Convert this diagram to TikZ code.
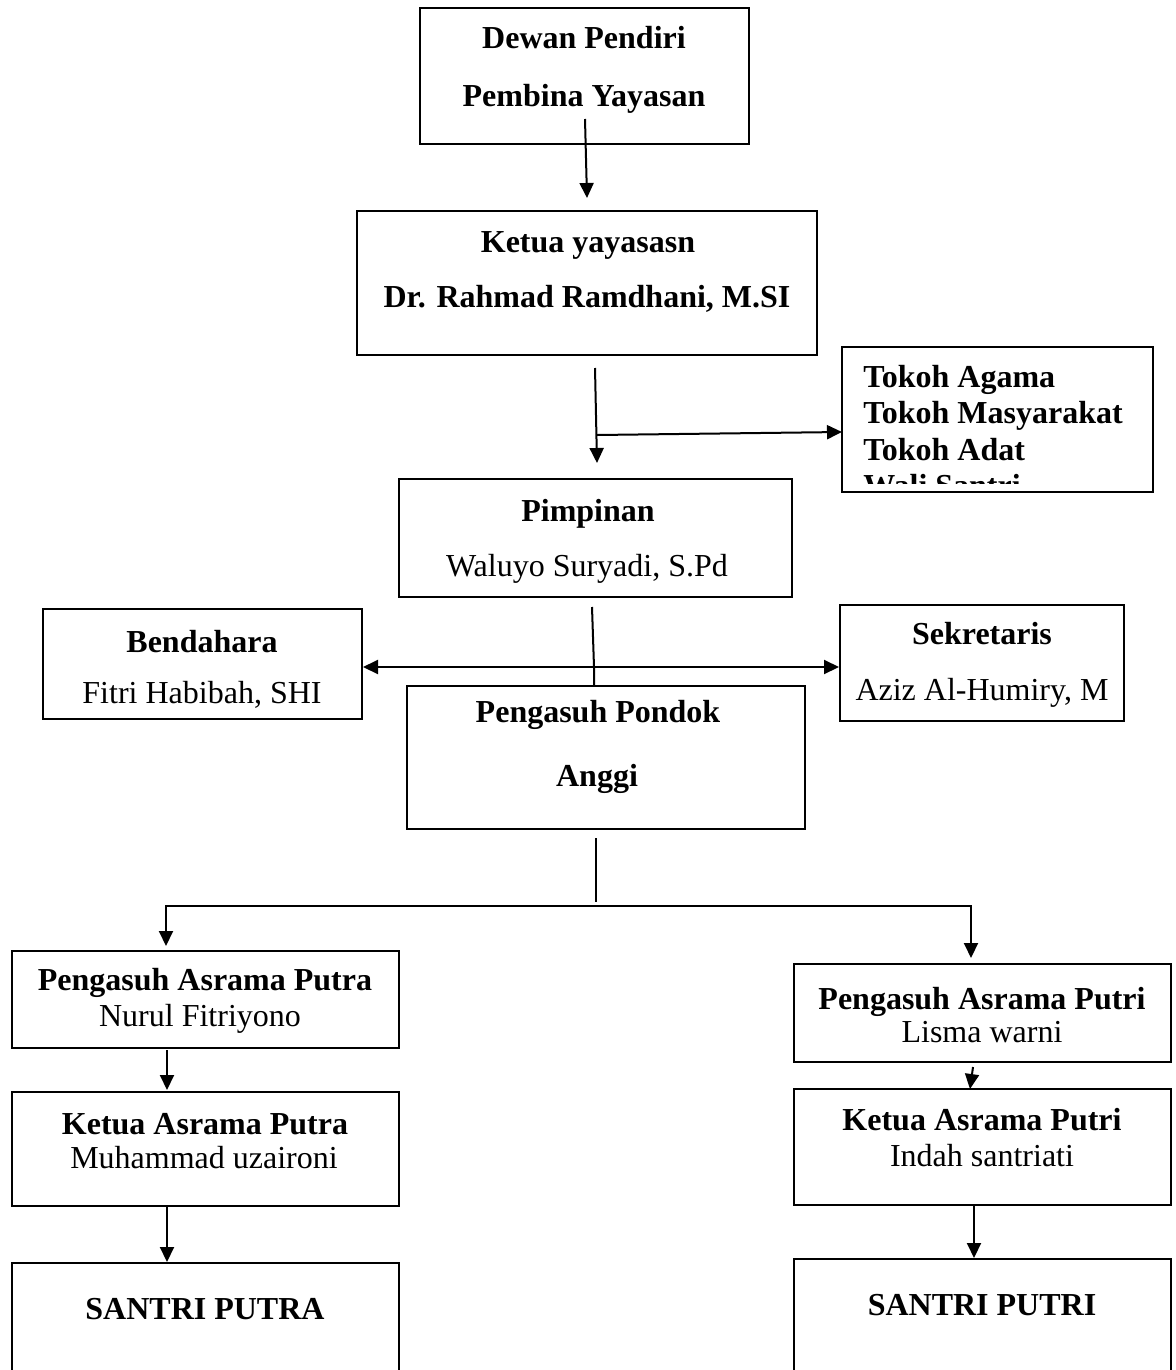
\documentclass[tikz,border=0pt]{standalone}
\usepackage{fontspec}
\setmainfont{Liberation Serif}
\usetikzlibrary{arrows.meta,fit}
\begin{document}
\begin{tikzpicture}[x=0.5pt,y=-0.5pt,
  box/.style={draw,line width=1pt,inner sep=0pt},
  bt/.style={font=\fontsize{16}{18}\selectfont\bfseries,anchor=base,inner sep=0pt},
  rt/.style={font=\fontsize{16}{18}\selectfont,anchor=base,inner sep=0pt},
  lt/.style={font=\fontsize{16}{18}\selectfont\bfseries,anchor=base west,inner sep=0pt},
  con/.style={line width=1pt},
  arr/.style={con,-{Triangle[width=7pt,length=7.5pt]}},
  both/.style={con,{Triangle[width=7pt,length=7.5pt]}-{Triangle[width=7pt,length=7.5pt]}}
  ]
\useasboundingbox (0,0) rectangle (1176,1370);
\fill[white] (0,0) rectangle (1176,1370);

% boxes
\node[box,fit={(420,8) (749,144)}] (dewan) {};
\node[box,fit={(357,211) (817,355)}] (ketua) {};
\node[box,fit={(842,347) (1153,492)}] (tokoh) {};
\node[box,fit={(399,479) (792,597)}] (pimp) {};
\node[box,fit={(43,609) (362,719)}] (bend) {};
\node[box,fit={(840,605) (1124,721)}] (sekr) {};
\node[box,fit={(407,686) (805,829)}] (pond) {};
\node[box,fit={(12,951) (399,1048)}] (pa) {};
\node[box,fit={(12,1092) (399,1206)}] (ka) {};
\node[box,fit={(12,1263) (399,1385)}] (sa) {};
\node[box,fit={(794,964) (1171,1062)}] (pi) {};
\node[box,fit={(794,1089) (1171,1205)}] (ki) {};
\node[box,fit={(794,1259) (1171,1385)}] (si) {};

% texts
\node[bt] (t1) at (584,49) {Dewan Pendiri};
\node[bt] (t2) at (584,106) {Pembina Yayasan};
\node[bt] (t3) at (588,252) {Ketua yayasasn};
\node[bt] (t4) at (587,307) {Dr. Rahmad Ramdhani, M.SI};
\begin{scope}
\clip (843,349) rectangle (1152,483);
\node[lt] (t5) at (863,387) {Tokoh Agama};
\node[lt] (t6) at (863,423) {Tokoh Masyarakat};
\node[lt] (t7) at (863,460) {Tokoh Adat};
\node[lt] (t8) at (863,496.5) {Wali Santri};
\end{scope}
\node[bt] (t9) at (588,521) {Pimpinan};
\node[rt] (t10) at (587,576) {Waluyo Suryadi, S.Pd};
\node[bt] (t11) at (202,652) {Bendahara};
\node[rt] (t12) at (202,703) {Fitri Habibah, SHI};
\node[bt] (t13) at (982,644) {Sekretaris};
\node[rt] (t14) at (982,700) {Aziz Al-Humiry, M};
\node[bt] (t15) at (598,722) {Pengasuh Pondok};
\node[bt] (t16) at (597,786) {Anggi};
\node[bt] (t17) at (205,990) {Pengasuh Asrama Putra};
\node[rt] (t18) at (200,1026) {Nurul Fitriyono};
\node[bt] (t19) at (205,1134) {Ketua Asrama Putra};
\node[rt] (t20) at (204,1168) {Muhammad uzaironi};
\node[bt] (t21) at (205,1319) {SANTRI PUTRA};
\node[bt] (t22) at (982,1009) {Pengasuh Asrama Putri};
\node[rt] (t23) at (982,1042) {Lisma warni};
\node[bt] (t24) at (982,1130) {Ketua Asrama Putri};
\node[rt] (t25) at (982,1166) {Indah santriati};
\node[bt] (t26) at (982,1315) {SANTRI PUTRI};

% connector coordinates
\coordinate (a1) at (585,119);
\coordinate (a2) at (587,198);
\coordinate (b1) at (595,368);
\coordinate (b2) at (597,463);
\coordinate (b3) at (597,435);
\coordinate (b4) at (842,432);
\coordinate (c1) at (592,607);
\coordinate (c2) at (594,667);
\coordinate (d1) at (596,838);
\coordinate (d2) at (596,902);
\coordinate (e1) at (166,906);
\coordinate (e2) at (971,906);
\coordinate (e3) at (166,946);
\coordinate (e4) at (971,958);
\coordinate (f1) at (167,1050);
\coordinate (f2) at (167,1090);
\coordinate (g1) at (973,1067);
\coordinate (g2) at (970,1089);

% connectors
\draw[arr] (a1) -- (a2);
\draw[arr] (b1) -- (b2);
\draw[arr] (b3) -- (b4);
\draw[con] (c1) -- (c2) -- (pond.north -| c2);
\draw[both] (bend.east |- c2) -- (sekr.west |- c2);
\draw[con] (d1) -- (d2);
\draw[both] (e3) -- (e1) -- (e2) -- (e4);
\draw[arr] (f1) -- (f2);
\draw[arr] (ka.south -| f1) -- (sa.north -| f1);
\draw[arr] (g1) -- (g2);
\draw[arr] (ki.south -| 974,0) -- (si.north -| 974,0);
\end{tikzpicture}
\end{document}
